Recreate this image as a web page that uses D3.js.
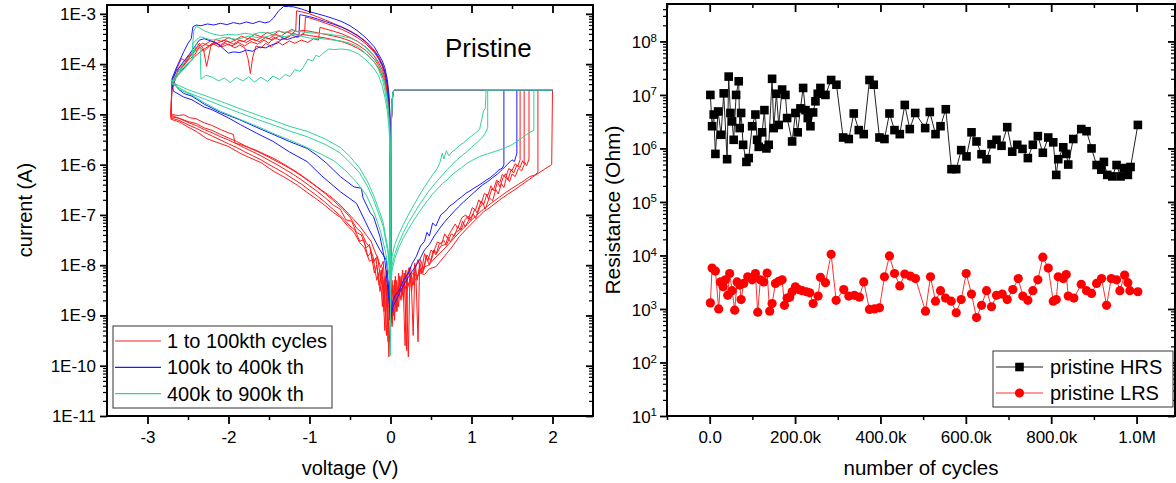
<!DOCTYPE html>
<html><head><meta charset="utf-8">
<script src="https://cdn.jsdelivr.net/npm/d3@7"></script>
<style>html,body{margin:0;padding:0;background:#fff}svg{display:block}text{font-family:"Liberation Sans",Arial,sans-serif;fill:#000}</style>
</head><body><svg id="c" width="1176" height="483"></svg>
<script>
// ---------- LEFT PANEL DATA: I-V loops [voltage V, current A] ----------
const compliance = [[2.0,3.1e-5],[0.05,3.1e-5],[0.04,3.0e-5],[0.03,2.6e-5],[0.02,1.8e-5],[0.012,8e-6],[0.006,1.5e-6],[0.002,1e-8]];

const redA_pos = [[0.0,3e-9],[0.02,1e-9],[0.05,4e-9],[0.08,1.5e-9],[0.11,5e-9],[0.14,2.5e-9],[0.18,6e-9],[0.22,4e-9],[0.27,7e-9],[0.33,6e-9],[0.4,9e-9],[0.47,1.0e-8],[0.55,1.4e-8],[0.65,2e-8],[0.75,3e-8],[0.85,4.5e-8],[0.95,6.5e-8],[1.05,9.5e-8],[1.15,1.3e-7],[1.25,1.75e-7],[1.35,2.3e-7],[1.45,3e-7],[1.55,3.8e-7],[1.65,4.8e-7],[1.72,5.8e-7],[1.78,6.2e-7],[1.82,7e-7],[1.82,3.1e-5]];
const redA_neg = [[0.0,4e-10],[-0.003,3.5e-6],[-0.01,1.1e-5],[-0.02,2.2e-5],[-0.04,4.2e-5],[-0.07,7.2e-5],[-0.1,1e-4],[-0.15,1.45e-4],[-0.2,1.9e-4],[-0.3,2.8e-4],[-0.4,3.7e-4],[-0.5,4.6e-4],[-0.6,5.5e-4],[-0.7,6.4e-4],[-0.8,7.5e-4],[-0.9,8.7e-4],[-1.0,1.0e-3],[-1.1,1.1e-3],[-1.16,1.15e-3],[-1.17,4.6e-4],[-1.22,4.0e-4],[-1.28,4.4e-4],[-1.35,3.6e-4],[-1.42,3.9e-4],[-1.5,3.2e-4],[-1.58,3.5e-4],[-1.66,2.9e-4],[-1.74,3.3e-4],[-1.82,2.8e-4],[-1.9,3.1e-4],[-1.98,2.7e-4],[-2.06,3.0e-4],[-2.14,2.6e-4],[-2.22,2.9e-4],[-2.3,2.4e-4],[-2.38,2.0e-4],[-2.45,1.6e-4],[-2.52,1.1e-4],[-2.58,1.3e-4],[-2.64,8e-5],[-2.7,4.5e-5],[-2.71,1.0e-5],
 [-2.62,9.5e-6],[-2.55,9.8e-6],[-2.48,8.6e-6],[-2.4,8.2e-6],[-2.3,6.8e-6],[-2.2,6.0e-6],[-2.1,5.0e-6],[-2.0,4.3e-6],[-1.94,4.0e-6],[-1.92,2.7e-6],[-1.85,2.5e-6],[-1.75,2.2e-6],[-1.65,1.9e-6],[-1.55,1.6e-6],[-1.45,1.35e-6],[-1.35,1.1e-6],[-1.25,8.8e-7],[-1.15,7e-7],[-1.05,5.4e-7],[-0.95,4.1e-7],[-0.85,3.1e-7],[-0.75,2.4e-7],[-0.65,1.75e-7],[-0.55,1.2e-7],[-0.45,8e-8],[-0.38,6e-8],[-0.3,4e-8],[-0.24,3e-8],[-0.2,2e-8],[-0.16,1.4e-8],[-0.12,9e-9],[-0.09,1.2e-8],[-0.07,4e-9],[-0.05,8e-9],[-0.03,2e-9],[-0.015,5e-9],[0.0,2.5e-9]];

const redB_pos = [[0.0,1.5e-9],[0.02,5e-9],[0.04,1e-9],[0.06,6e-9],[0.08,2e-9],[0.1,7e-9],[0.12,3e-9],[0.15,8e-9],[0.18,2.5e-10],[0.2,6e-9],[0.23,9e-9],[0.26,3e-9],[0.3,1.1e-8],[0.33,5e-9],[0.37,1.3e-8],[0.41,8e-9],[0.45,1.6e-8],[0.5,1.2e-8],[0.54,2e-8],[0.57,1.7e-8],[0.62,2.4e-8],[0.68,2.6e-8],[0.71,3.6e-8],[0.74,2.9e-8],[0.8,4.4e-8],[0.86,5.2e-8],[0.89,7.5e-8],[0.92,5.8e-8],[0.98,8.5e-8],[1.02,1.05e-7],[1.05,8.5e-8],[1.1,1.4e-7],[1.14,1.7e-7],[1.17,1.3e-7],[1.22,2.2e-7],[1.26,1.9e-7],[1.3,3.2e-7],[1.33,2.6e-7],[1.37,4.2e-7],[1.4,3.5e-7],[1.43,5.5e-7],[1.47,4.6e-7],[1.5,6.5e-7],[1.54,5.8e-7],[1.58,8.5e-7],[1.62,7.5e-7],[1.66,1.1e-6],[1.68,9.5e-7],[1.71,1.3e-6],[1.71,3.1e-5]];
const redB_neg = [[0.0,1e-9],[-0.003,3e-6],[-0.01,9.5e-6],[-0.02,1.9e-5],[-0.04,3.7e-5],[-0.07,6.3e-5],[-0.1,8.8e-5],[-0.15,1.3e-4],[-0.2,1.7e-4],[-0.3,2.5e-4],[-0.4,3.3e-4],[-0.5,4.1e-4],[-0.6,4.9e-4],[-0.7,5.7e-4],[-0.8,6.5e-4],[-0.9,7.4e-4],[-1.0,8.3e-4],[-1.05,8.7e-4],[-1.06,4.2e-4],[-1.12,3.7e-4],[-1.2,4.1e-4],[-1.28,3.4e-4],[-1.36,3.0e-4],[-1.44,3.4e-4],[-1.5,2.6e-4],[-1.56,3.0e-4],[-1.64,2.5e-4],[-1.72,2.8e-4],[-1.8,2.3e-4],[-1.88,2.7e-4],[-1.96,2.3e-4],[-2.04,2.6e-4],[-2.12,2.2e-4],[-2.2,2.6e-4],[-2.3,1.8e-4],[-2.36,2.2e-4],[-2.42,1.5e-4],[-2.5,1.2e-4],[-2.56,9e-5],[-2.63,7e-5],[-2.7,3.5e-5],[-2.71,9e-6],
 [-2.6,8.3e-6],[-2.5,7.2e-6],[-2.4,6.6e-6],[-2.3,5.4e-6],[-2.2,4.8e-6],[-2.1,4e-6],[-2.0,3.4e-6],[-1.9,2.9e-6],[-1.8,2.4e-6],[-1.7,2.0e-6],[-1.6,1.7e-6],[-1.5,1.4e-6],[-1.4,1.15e-6],[-1.3,9.5e-7],[-1.2,7.6e-7],[-1.1,6e-7],[-1.0,4.6e-7],[-0.9,3.5e-7],[-0.8,2.6e-7],[-0.7,1.9e-7],[-0.6,1.35e-7],[-0.5,9e-8],[-0.42,5.5e-8],[-0.36,4.5e-8],[-0.3,2.8e-8],[-0.25,2.2e-8],[-0.2,1.2e-8],[-0.16,1.5e-8],[-0.12,5e-9],[-0.1,9e-9],[-0.08,2e-9],[-0.06,6e-9],[-0.04,1.5e-9],[-0.02,4e-9],[0.0,1.5e-9]];

const redC_pos = [[0.0,1e-9],[0.03,4e-9],[0.05,8e-10],[0.07,5e-9],[0.1,1.5e-9],[0.13,6e-9],[0.16,2e-9],[0.19,8e-9],[0.22,1.5e-10],[0.24,7e-9],[0.28,4e-9],[0.31,1e-8],[0.34,3e-10],[0.36,1.1e-8],[0.4,7e-9],[0.44,1.5e-8],[0.48,1e-8],[0.53,2.0e-8],[0.56,1.6e-8],[0.6,2.6e-8],[0.66,3.1e-8],[0.69,2.5e-8],[0.75,4.2e-8],[0.79,3.8e-8],[0.83,5.8e-8],[0.87,5.0e-8],[0.92,8e-8],[0.96,9.5e-8],[0.99,7.8e-8],[1.04,1.3e-7],[1.07,1.1e-7],[1.12,1.9e-7],[1.15,1.6e-7],[1.19,2.6e-7],[1.21,2.0e-7],[1.25,3.3e-7],[1.29,3.0e-7],[1.32,4.6e-7],[1.35,3.6e-7],[1.39,5.5e-7],[1.42,6.6e-7],[1.45,5.0e-7],[1.49,8.0e-7],[1.52,6.8e-7],[1.56,9.8e-7],[1.6,8.8e-7],[1.63,1.2e-6],[1.65,1.05e-6],[1.65,3.1e-5]];
const redC_neg = [[0.0,2e-10],[-0.003,2.5e-6],[-0.01,8e-6],[-0.02,1.6e-5],[-0.04,3.1e-5],[-0.07,5.4e-5],[-0.1,7.6e-5],[-0.15,1.1e-4],[-0.2,1.45e-4],[-0.3,2.15e-4],[-0.4,2.8e-4],[-0.5,3.4e-4],[-0.6,4e-4],[-0.7,4.5e-4],[-0.8,5e-4],[-0.87,5.4e-4],[-0.89,3.0e-4],[-0.95,3.2e-4],[-1.02,2.7e-4],[-1.1,3.0e-4],[-1.18,2.6e-4],[-1.25,2.9e-4],[-1.33,2.4e-4],[-1.4,2.8e-4],[-1.47,2.2e-4],[-1.54,2.6e-4],[-1.6,2.1e-4],[-1.66,2.3e-4],[-1.7,1.4e-4],[-1.73,6.5e-5],[-1.76,1.3e-4],[-1.8,2.1e-4],[-1.86,2.4e-4],[-1.92,2.1e-4],[-2.0,2.5e-4],[-2.08,2.2e-4],[-2.16,2.6e-4],[-2.24,2.3e-4],[-2.32,2.6e-4],[-2.4,2.1e-4],[-2.48,1.5e-4],[-2.55,1.1e-4],[-2.62,8e-5],[-2.7,3e-5],[-2.71,9.5e-6],
 [-2.62,8.5e-6],[-2.5,6.9e-6],[-2.4,6e-6],[-2.3,5e-6],[-2.2,4.3e-6],[-2.1,3.6e-6],[-2.0,3.1e-6],[-1.9,2.6e-6],[-1.8,2.15e-6],[-1.7,1.8e-6],[-1.6,1.5e-6],[-1.5,1.22e-6],[-1.4,1.0e-6],[-1.3,8e-7],[-1.2,6.4e-7],[-1.1,5e-7],[-1.0,3.8e-7],[-0.9,2.9e-7],[-0.8,2.15e-7],[-0.7,1.55e-7],[-0.62,1.3e-7],[-0.55,8e-8],[-0.48,7.5e-8],[-0.42,4.5e-8],[-0.36,4e-8],[-0.3,2.2e-8],[-0.26,2.6e-8],[-0.22,1.1e-8],[-0.18,1.4e-8],[-0.14,4e-9],[-0.11,8e-9],[-0.08,1.2e-9],[-0.06,5e-9],[-0.03,3e-10],[-0.015,3e-9],[0.0,1e-9]];

const redD_pos = [[0.0,2e-9],[0.02,7e-10],[0.05,5e-9],[0.08,1.2e-9],[0.11,6e-9],[0.14,2.5e-9],[0.17,7e-9],[0.2,2e-10],[0.21,6e-9],[0.25,9e-9],[0.28,4e-10],[0.3,8e-9],[0.34,1.3e-8],[0.38,7e-9],[0.42,1.7e-8],[0.46,1.2e-8],[0.5,2.0e-8],[0.53,1.8e-8],[0.58,2.9e-8],[0.63,2.6e-8],[0.67,4.2e-8],[0.7,3.5e-8],[0.76,5.2e-8],[0.8,6.6e-8],[0.83,5.4e-8],[0.88,8.8e-8],[0.93,1.0e-7],[0.96,8.2e-8],[1.01,1.4e-7],[1.05,1.25e-7],[1.09,2.0e-7],[1.12,1.7e-7],[1.16,2.7e-7],[1.2,2.4e-7],[1.24,3.8e-7],[1.27,3.1e-7],[1.31,4.9e-7],[1.35,4.4e-7],[1.38,6.4e-7],[1.42,5.5e-7],[1.46,8.4e-7],[1.5,7.6e-7],[1.54,1.05e-6],[1.57,9.2e-7],[1.6,1.25e-6],[1.6,3.1e-5]];
const redD_neg = [[0.0,1.5e-9],[-0.003,2.2e-6],[-0.01,7e-6],[-0.02,1.4e-5],[-0.04,2.7e-5],[-0.07,4.7e-5],[-0.1,6.6e-5],[-0.15,9.6e-5],[-0.2,1.25e-4],[-0.3,1.85e-4],[-0.4,2.4e-4],[-0.5,2.9e-4],[-0.6,3.3e-4],[-0.7,3.6e-4],[-0.8,3.9e-4],[-0.9,4.2e-4],[-1.0,4.5e-4],[-1.08,4.7e-4],[-1.15,4.4e-4],[-1.22,4.9e-4],[-1.3,4.1e-4],[-1.38,4.6e-4],[-1.45,3.8e-4],[-1.52,4.3e-4],[-1.6,3.5e-4],[-1.68,3.9e-4],[-1.76,3.2e-4],[-1.84,3.6e-4],[-1.92,3.0e-4],[-2.0,3.4e-4],[-2.08,2.8e-4],[-2.16,3.1e-4],[-2.22,2.2e-4],[-2.27,9e-5],[-2.31,2.0e-4],[-2.36,2.6e-4],[-2.42,1.8e-4],[-2.5,1.3e-4],[-2.57,9e-5],[-2.64,6.5e-5],[-2.7,4e-5],[-2.71,8.5e-6],
 [-2.6,7.5e-6],[-2.5,6.2e-6],[-2.4,5.3e-6],[-2.3,4.4e-6],[-2.2,3.7e-6],[-2.1,3.1e-6],[-2.0,2.6e-6],[-1.9,2.2e-6],[-1.8,1.8e-6],[-1.7,1.5e-6],[-1.6,1.25e-6],[-1.5,1.0e-6],[-1.4,8.2e-7],[-1.3,6.6e-7],[-1.2,5.2e-7],[-1.1,4.1e-7],[-1.0,3.1e-7],[-0.9,2.35e-7],[-0.8,1.75e-7],[-0.7,1.25e-7],[-0.6,9e-8],[-0.5,6e-8],[-0.44,5e-8],[-0.38,3e-8],[-0.33,3.2e-8],[-0.28,1.5e-8],[-0.24,1.8e-8],[-0.2,7e-9],[-0.17,1e-8],[-0.13,3e-9],[-0.1,6e-9],[-0.07,5e-10],[-0.05,4e-9],[-0.02,1.5e-10],[0.0,1.5e-9]];

const redE_pos = [[0.0,2e-9],[0.02,6e-10],[0.04,3e-9],[0.07,1.2e-9],[0.1,4e-9],[0.13,2e-9],[0.16,5e-9],[0.2,3e-9],[0.25,6e-9],[0.3,5e-9],[0.36,7e-9],[0.42,6.5e-9],[0.48,8.5e-9],[0.56,9.3e-9],[0.65,1.4e-8],[0.75,2.2e-8],[0.85,3.7e-8],[0.95,5.5e-8],[1.05,8e-8],[1.15,1.15e-7],[1.25,1.5e-7],[1.35,2e-7],[1.45,2.6e-7],[1.55,3.3e-7],[1.65,4.3e-7],[1.75,5.6e-7],[1.85,7.2e-7],[1.92,8.5e-7],[1.99,1.0e-6],[2.0,3.1e-5]];
const redE_neg = [[0.0,6e-10],[-0.003,2e-6],[-0.01,6.3e-6],[-0.02,1.25e-5],[-0.04,2.4e-5],[-0.07,4.2e-5],[-0.1,5.8e-5],[-0.15,8.5e-5],[-0.2,1.1e-4],[-0.3,1.6e-4],[-0.4,2.05e-4],[-0.5,2.45e-4],[-0.6,2.8e-4],[-0.7,3.05e-4],[-0.8,3.3e-4],[-0.9,3.5e-4],[-1.0,3.7e-4],[-1.08,3.9e-4],[-1.15,3.4e-4],[-1.22,3.8e-4],[-1.3,3.2e-4],[-1.38,3.6e-4],[-1.46,3.0e-4],[-1.54,3.4e-4],[-1.62,2.8e-4],[-1.7,3.2e-4],[-1.78,2.7e-4],[-1.86,3.0e-4],[-1.94,2.5e-4],[-2.02,2.9e-4],[-2.1,2.4e-4],[-2.18,2.7e-4],[-2.26,2.2e-4],[-2.34,1.8e-4],[-2.42,1.4e-4],[-2.5,1.0e-4],[-2.58,7.5e-5],[-2.65,5.5e-5],[-2.7,3e-5],[-2.71,8e-6],
 [-2.6,7e-6],[-2.5,5.6e-6],[-2.4,4.6e-6],[-2.27,3.3e-6],[-2.15,2.8e-6],[-2.0,2.3e-6],[-1.86,1.7e-6],[-1.75,1.4e-6],[-1.6,1.1e-6],[-1.45,7.5e-7],[-1.3,5.5e-7],[-1.15,3.9e-7],[-1.03,2.8e-7],[-0.9,2e-7],[-0.8,1.5e-7],[-0.7,1.1e-7],[-0.62,9e-8],[-0.52,5.8e-8],[-0.45,4.5e-8],[-0.38,2.8e-8],[-0.32,2.2e-8],[-0.26,1.2e-8],[-0.21,1.3e-8],[-0.17,5e-9],[-0.13,8e-9],[-0.1,1.5e-9],[-0.08,5e-9],[-0.05,4e-10],[-0.03,3e-9],[-0.01,8e-10],[0.0,2e-9]];

const blueA_pos = [[0.0,1e-9],[0.03,2e-9],[0.06,2.5e-9],[0.11,3.2e-9],[0.16,5e-9],[0.22,7e-9],[0.27,1.1e-8],[0.32,1.5e-8],[0.37,2.4e-8],[0.42,3e-8],[0.45,4.5e-8],[0.48,3.8e-8],[0.52,6.9e-8],[0.56,6e-8],[0.62,1e-7],[0.68,1.2e-7],[0.73,1.5e-7],[0.78,1.7e-7],[0.83,2e-7],[0.88,2.3e-7],[0.93,2.7e-7],[0.98,3e-7],[1.03,3.4e-7],[1.08,3.8e-7],[1.13,4.3e-7],[1.18,4.9e-7],[1.23,5.5e-7],[1.28,6.4e-7],[1.34,7.9e-7],[1.38,8.5e-7],[1.40,1.0e-6],[1.40,3.1e-5]];
const blueA_neg = [[0.0,2e-9],[-0.003,4e-6],[-0.01,1.3e-5],[-0.02,2.6e-5],[-0.04,5e-5],[-0.07,8.5e-5],[-0.1,1.15e-4],[-0.15,1.6e-4],[-0.2,2.2e-4],[-0.3,3.3e-4],[-0.4,4.5e-4],[-0.5,5.8e-4],[-0.6,7e-4],[-0.7,8e-4],[-0.8,9e-4],[-0.9,1.0e-3],[-1.0,1.1e-3],[-1.1,1.25e-3],[-1.2,1.38e-3],[-1.26,1.4e-3],[-1.32,1.4e-3],[-1.38,1.15e-3],[-1.44,8.5e-4],[-1.49,7e-4],[-1.55,6.6e-4],[-1.62,7.1e-4],[-1.7,6.4e-4],[-1.78,6.9e-4],[-1.86,6.3e-4],[-1.94,6.7e-4],[-2.02,6.1e-4],[-2.1,6.5e-4],[-2.18,6.0e-4],[-2.26,6.3e-4],[-2.34,5.8e-4],[-2.4,6.0e-4],[-2.44,5.5e-4],[-2.46,3.2e-4],[-2.5,2.6e-4],[-2.55,1.8e-4],[-2.6,1.2e-4],[-2.65,8e-5],[-2.7,5e-5],
 [-2.62,3.2e-5],[-2.55,2.6e-5],[-2.45,2.3e-5],[-2.3,1.6e-5],[-2.1,1.1e-5],[-1.86,7.8e-6],[-1.65,5.5e-6],[-1.45,4e-6],[-1.25,2.9e-6],[-1.03,2.1e-6],[-0.9,1.5e-6],[-0.79,1.07e-6],[-0.62,5.8e-7],[-0.45,3.6e-7],[-0.36,3.4e-7],[-0.34,2.2e-7],[-0.25,1.1e-7],[-0.21,9.3e-8],[-0.13,3.7e-8],[-0.07,1.26e-8],[-0.03,3e-9],[0.0,1e-9]];

const blueB_pos = [[0.0,8e-10],[0.03,1.5e-9],[0.07,2e-9],[0.12,3e-9],[0.18,4.5e-9],[0.24,6.5e-9],[0.3,9e-9],[0.36,1.3e-8],[0.42,2e-8],[0.48,2.6e-8],[0.54,3.8e-8],[0.6,5.2e-8],[0.66,7e-8],[0.72,9e-8],[0.78,1.15e-7],[0.84,1.45e-7],[0.9,1.8e-7],[0.96,2.2e-7],[1.02,2.7e-7],[1.08,3.3e-7],[1.14,4e-7],[1.2,4.6e-7],[1.26,5.5e-7],[1.32,6.5e-7],[1.38,8e-7],[1.44,1e-6],[1.5,1.25e-6],[1.53,1.15e-6],[1.56,1.7e-6],[1.56,3.1e-5]];
const blueB_neg = [[0.0,1.5e-9],[-0.003,3e-6],[-0.01,1e-5],[-0.02,2e-5],[-0.04,4e-5],[-0.07,7e-5],[-0.1,9.5e-5],[-0.15,1.35e-4],[-0.2,1.8e-4],[-0.3,2.7e-4],[-0.4,3.6e-4],[-0.5,4.5e-4],[-0.6,5.4e-4],[-0.7,6.2e-4],[-0.8,7e-4],[-0.9,7.9e-4],[-1.0,8.8e-4],[-1.1,9.5e-4],[-1.12,9.6e-4],[-1.13,3.6e-4],[-1.2,3.4e-4],[-1.27,3.1e-4],[-1.34,3.2e-4],[-1.4,2.6e-4],[-1.47,2.4e-4],[-1.54,2.1e-4],[-1.62,2.2e-4],[-1.7,1.8e-4],[-1.78,1.9e-4],[-1.86,1.7e-4],[-1.94,1.75e-4],[-2.0,1.65e-4],[-2.06,2e-4],[-2.14,2.6e-4],[-2.22,2.9e-4],[-2.3,3.2e-4],[-2.36,3.0e-4],[-2.42,2.2e-4],[-2.48,1.6e-4],[-2.54,1.2e-4],[-2.6,9e-5],[-2.65,7e-5],[-2.7,4.5e-5],
 [-2.68,2.9e-5],[-2.55,2.2e-5],[-2.45,1.95e-5],[-2.3,1.4e-5],[-2.2,1.23e-5],[-2.0,8.5e-6],[-1.85,6.2e-6],[-1.65,4.2e-6],[-1.45,2.9e-6],[-1.25,1.8e-6],[-1.03,1.15e-6],[-0.85,6e-7],[-0.62,2.9e-7],[-0.42,1.7e-7],[-0.26,5e-8],[-0.13,2e-8],[-0.05,1.26e-8],[-0.02,3e-9],[0.0,8e-10]];

const greenA_pos = [[0.0,5e-9],[0.02,1.5e-8],[0.05,2.5e-8],[0.1,4e-8],[0.16,6.5e-8],[0.22,1e-7],[0.28,1.5e-7],[0.34,2.2e-7],[0.4,3.2e-7],[0.46,4.5e-7],[0.52,6.3e-7],[0.57,8e-7],[0.61,1.1e-6],[0.64,1.7e-6],[0.66,1.3e-6],[0.69,1.9e-6],[0.72,1.5e-6],[0.76,1.8e-6],[0.8,2.0e-6],[0.85,2.4e-6],[0.9,2.7e-6],[0.95,3.2e-6],[1.0,3.7e-6],[1.05,4.3e-6],[1.1,5e-6],[1.15,1.2e-5],[1.17,1.3e-5],[1.18,3.1e-5]];
const greenA_neg = [[0.0,1.6e-10],[-0.003,1.5e-6],[-0.01,5e-6],[-0.02,1e-5],[-0.04,2e-5],[-0.07,4e-5],[-0.1,6.5e-5],[-0.15,1e-4],[-0.2,1.4e-4],[-0.3,2.1e-4],[-0.4,2.8e-4],[-0.5,3.3e-4],[-0.6,3.6e-4],[-0.7,3.8e-4],[-0.8,4.0e-4],[-0.9,4.1e-4],[-1.0,4.2e-4],[-1.1,4.4e-4],[-1.2,4.6e-4],[-1.3,4.3e-4],[-1.4,4.5e-4],[-1.5,4.1e-4],[-1.6,4.3e-4],[-1.7,3.9e-4],[-1.8,4.1e-4],[-1.9,3.8e-4],[-2.0,3.9e-4],[-2.1,3.7e-4],[-2.2,4.0e-4],[-2.3,4.6e-4],[-2.36,5.3e-4],[-2.4,5.6e-4],[-2.43,4.5e-4],[-2.45,1.5e-4],[-2.5,1.3e-4],[-2.55,1.1e-4],[-2.6,8e-5],[-2.65,6e-5],[-2.7,4.5e-5],
 [-2.68,4.2e-5],[-2.5,3.1e-5],[-2.27,2.3e-5],[-2.05,1.7e-5],[-1.86,1.3e-5],[-1.65,9.8e-6],[-1.45,7.6e-6],[-1.25,5.8e-6],[-1.03,4.6e-6],[-0.8,3.2e-6],[-0.62,2.2e-6],[-0.5,1.45e-6],[-0.38,8.5e-7],[-0.28,4.5e-7],[-0.21,2.5e-7],[-0.13,1.1e-7],[-0.09,7e-8],[-0.03,2e-8],[0.0,5e-9]];

const greenB_pos = [[0.0,4e-9],[0.02,1e-8],[0.05,1.6e-8],[0.1,2.7e-8],[0.16,4.5e-8],[0.22,7e-8],[0.28,1e-7],[0.34,1.45e-7],[0.4,2e-7],[0.46,2.8e-7],[0.52,3.7e-7],[0.58,4.8e-7],[0.64,6.2e-7],[0.7,8e-7],[0.76,1e-6],[0.82,1.25e-6],[0.88,1.5e-6],[0.94,1.8e-6],[1.0,2.2e-6],[1.06,2.7e-6],[1.12,3.3e-6],[1.17,4.2e-6],[1.2,5.4e-6],[1.2,3.1e-5]];
const greenB_neg = [[0.0,1e-9],[-0.003,1.2e-6],[-0.01,4e-6],[-0.02,8e-6],[-0.04,1.6e-5],[-0.07,3e-5],[-0.1,5e-5],[-0.15,8e-5],[-0.2,1.1e-4],[-0.3,1.6e-4],[-0.4,2.2e-4],[-0.5,2.6e-4],[-0.6,2.85e-4],[-0.7,3.0e-4],[-0.8,3.15e-4],[-0.9,3.25e-4],[-1.0,3.3e-4],[-1.1,3.6e-4],[-1.2,3.9e-4],[-1.3,3.5e-4],[-1.45,3.8e-4],[-1.6,3.3e-4],[-1.75,3.6e-4],[-1.9,3.1e-4],[-2.05,3.4e-4],[-2.2,3.0e-4],[-2.35,3.5e-4],[-2.44,2.6e-4],[-2.45,1.2e-4],[-2.55,8e-5],[-2.62,6e-5],[-2.7,4e-5],
 [-2.68,3.9e-5],[-2.5,2.7e-5],[-2.27,1.95e-5],[-2.05,1.4e-5],[-1.86,1.07e-5],[-1.65,8e-6],[-1.45,6.2e-6],[-1.25,4.7e-6],[-1.03,3.6e-6],[-0.8,2.5e-6],[-0.62,1.7e-6],[-0.5,1.1e-6],[-0.38,6.8e-7],[-0.28,3.6e-7],[-0.21,2e-7],[-0.13,9e-8],[-0.09,5.9e-8],[-0.03,1.7e-8],[0.0,5e-9]];

const greenC_pos = [[0.0,3e-9],[0.02,8e-9],[0.05,1.3e-8],[0.1,2.2e-8],[0.16,3.5e-8],[0.22,5.2e-8],[0.28,7.5e-8],[0.34,1.05e-7],[0.4,1.45e-7],[0.46,1.95e-7],[0.52,2.6e-7],[0.58,3.3e-7],[0.64,4.2e-7],[0.7,5e-7],[0.76,6.3e-7],[0.82,7.5e-7],[0.88,8.8e-7],[0.94,1.05e-6],[1.0,1.2e-6],[1.1,1.45e-6],[1.2,1.65e-6],[1.3,1.85e-6],[1.4,2.1e-6],[1.5,2.5e-6],[1.6,3.2e-6],[1.66,3.8e-6],[1.72,4.4e-6],[1.77,4.8e-6],[1.77,3.1e-5]];
const greenC_neg = [[0.0,1.2e-9],[-0.003,1e-6],[-0.01,3e-6],[-0.02,6e-6],[-0.04,1.2e-5],[-0.07,2.2e-5],[-0.1,3.6e-5],[-0.15,6e-5],[-0.2,8e-5],[-0.3,1.2e-4],[-0.4,1.6e-4],[-0.5,1.9e-4],[-0.6,2e-4],[-0.7,1.95e-4],[-0.76,2e-4],[-0.83,1.66e-4],[-0.88,1.4e-4],[-0.92,1.5e-4],[-0.96,1.15e-4],[-1.02,1.25e-4],[-1.08,8.5e-5],[-1.12,7.2e-5],[-1.18,7.8e-5],[-1.24,5.7e-5],[-1.3,6.2e-5],[-1.37,4.9e-5],[-1.45,5.8e-5],[-1.52,4.5e-5],[-1.6,5.5e-5],[-1.68,4.4e-5],[-1.75,5.6e-5],[-1.82,4.6e-5],[-1.9,5.4e-5],[-1.98,4.3e-5],[-2.05,5.3e-5],[-2.12,4.6e-5],[-2.2,5.5e-5],[-2.28,6e-5],[-2.34,5e-5],[-2.35,2.2e-4],[-2.4,2.5e-4],[-2.45,1.2e-4],[-2.55,9e-5],[-2.62,6.5e-5],[-2.7,4.2e-5],
 [-2.6,3.1e-5],[-2.45,2.4e-5],[-2.3,1.7e-5],[-2.1,1.15e-5],[-1.86,8e-6],[-1.65,5.8e-6],[-1.45,4.2e-6],[-1.25,3.1e-6],[-1.03,2.2e-6],[-0.85,1.6e-6],[-0.7,1.2e-6],[-0.55,7.5e-7],[-0.42,4.5e-7],[-0.3,2.5e-7],[-0.2,1.1e-7],[-0.12,4.5e-8],[-0.06,1.8e-8],[0.0,4e-9]];

const voltTicks = [-3,-2,-1,0,1,2];
const voltTickLabels = ["-3","-2","-1","0","1","2"];
const voltMinor = [-2.5,-1.5,-0.5,0.5,1.5];
const currentTicks = [1e-11,1e-10,1e-9,1e-8,1e-7,1e-6,1e-5,1e-4,1e-3];
const currentTickLabels = ["1E-11","1E-10","1E-9","1E-8","1E-7","1E-6","1E-5","1E-4","1E-3"];
const legendLeft = ["1 to 100kth cycles","100k to 400k th","400k to 900k th"];
const ivColors = ["#ff1a1a","#1a1aff","#2fd49a"];

// ---------- RIGHT PANEL DATA: endurance ----------
const hrsKCycles = [1.6,5.6,9.4,13.4,19.7,26.7,32.8,40.8,44.5,48.5,52.5,56.2,61.9,68.0,70.3,73.6,78.3,86.0,91.4,99.4,107.1,111.1,114.8,122.8,128.2,132.9,138.3,146.2,150,156.3,161.7,169.7,177.4,181.4,193.1,200.8,206.2,212.6,218.9,224.3,229.7,236,242.3,247.7,253.1,259.4,271.2,284.5,296.9,312.6,325.8,337.5,349.2,360.9,374.3,384.3,397.7,409.4,421.1,432.9,445.3,457,468.7,481.4,504.8,515.6,529,540.7,553.1,566.4,577.5,589.2,601.6,613.3,625,636.8,648.5,660.2,671.9,683.6,697,708.7,720.4,732.8,745.3,757,768.7,780.4,793.1,804.8,811.8,816.5,828.2,835.2,839.9,851.7,870.4,882.8,894.5,906.3,917.3,923.4,931.3,943.1,953.1,962.5,970.2,979.6,985.9,1003];
const hrsOhm = [1.0e7,2.6e6,4.3e6,7.9e5,4.9e6,1.8e6,1.07e7,6.3e5,2.2e7,4.6e6,3.2e6,1.45e6,1.0e7,1.8e7,2.4e6,4.6e6,1.17e6,5.6e5,6.6e5,2.6e6,4.3e6,1.45e6,1.07e6,2.0e6,5.2e6,1.0e6,1.17e6,2.0e7,2.4e6,1.05e7,2.75e6,1.26e7,1.0e7,3.7e6,1.35e6,4.6e6,2.0e6,5.6e6,1.35e7,5.2e6,3.7e6,2.6e6,4.7e6,7.6e6,1.05e7,1.35e7,1.0e7,1.9e7,1.55e7,1.6e6,1.5e6,4.5e6,2.2e6,1.85e6,1.9e7,1.55e7,1.6e6,1.5e6,4.5e6,2.2e6,1.85e6,6.5e6,2.3e6,4.6e6,2.4e6,4.8e6,1.85e6,2.6e6,5.4e6,4.1e5,4.1e5,9.3e5,7.1e5,2.0e6,1.35e6,7.8e5,6.3e5,1.2e6,1.45e6,1.12e6,2.5e6,8.7e5,1.17e6,9.8e5,6.6e5,1.17e6,1.7e6,8.3e5,1.6e6,1.3e6,3.2e5,6.3e5,1.05e6,7.9e5,5.0e5,1.5e6,2.3e6,2.1e6,1.0e6,4.9e5,4.0e5,5.6e5,3.2e5,3.0e5,4.9e5,3.0e5,4.3e5,3.2e5,4.5e5,2.75e6];
const lrsKCycles = [1.6,5.6,13.4,21.1,25.1,31.4,36.8,42.2,46.9,52.5,58.6,64.2,70.3,73.6,79.7,89.1,99.4,107.1,112.5,118.8,126.6,134.5,140.6,146.2,154,161.7,169.7,175.1,181.4,187.5,193.1,200.8,208.6,216.5,226.6,234.4,242.3,254,259.4,271.2,284.5,296.2,314,325.8,339.1,350.8,360.9,374.3,386,397.7,409.4,421.1,432.9,445.3,457,470.4,482.1,505.5,517.2,529,540.7,552.4,565.7,577.5,589.2,600.9,613.3,625,636.8,648.5,660.2,671.9,685.3,697,710.1,722.8,733.5,745.3,757,768.7,780.4,793.1,804.8,811.8,816.5,828.2,835.2,839.9,853.1,870.4,882.8,894.5,906.3,918,929.7,940.7,953.1,960.9,971.9,979.6,984.3,1003];
const lrsOhm = [1.3e3,5.8e3,5.1e3,1.0e3,3.2e3,2.6e3,3.5e3,1.8e3,4.6e3,2.2e3,9.5e2,3.2e3,2.8e3,1.5e3,3.0e3,4.0e3,3.5e3,4.6e3,8.7e2,3.5e3,3.2e3,4.7e3,9.1e2,1.26e3,3.0e3,3.3e3,3.5e3,1.17e3,1.6e3,1.66e3,2.1e3,2.6e3,2.3e3,2.2e3,2.1e3,2.0e3,1.26e3,1.74e3,3.9e3,3.1e3,1.05e4,1.45e3,2.3e3,1.74e3,1.8e3,1.66e3,3.2e3,9.8e2,1.0e3,1.05e3,4.0e3,9.8e3,4.6e3,2.7e3,4.5e3,4.1e3,3.7e3,9.1e2,4.0e3,1.4e3,2.2e3,1.6e3,1.4e3,8.5e2,1.5e3,4.6e3,1.9e3,6.9e2,1.17e3,2.2e3,1.1e3,1.8e3,1.9e3,1.5e3,2.3e3,3.7e3,1.74e3,1.45e3,2.2e3,3.5e3,9.3e3,5.8e3,1.4e3,1.5e3,4.0e3,3.7e3,4.4e3,1.74e3,1.6e3,2.9e3,2.2e3,1.95e3,3.0e3,3.7e3,1.17e3,3.7e3,3.5e3,2.2e3,4.3e3,3.1e3,2.2e3,2.1e3];
const cycleTicks = [0,200,400,600,800,1000];
const cycleTickLabels = ["0.0","200.0k","400.0k","600.0k","800.0k","1.0M"];
const cycleMinor = [-100,100,300,500,700,900];
const ohmExponents = [1,2,3,4,5,6,7,8];
const legendRight = ["pristine HRS","pristine LRS"];

// ---------- DRAW ----------
const svg = d3.select("#c");
svg.append("rect").attr("width",1176).attr("height",483).attr("fill","#fff");
const FONT = '"Liberation Sans", Arial, sans-serif';

function styleAxis(g, w){ g.select(".domain").remove(); g.selectAll(".tick line").attr("stroke","#000").attr("stroke-width",w); g.selectAll("text").attr("font-family",FONT).attr("fill","#000"); }

// ===== Left panel =====
const L = {x0:107, x1:593, y0:5, y1:416};
const xV = d3.scaleLinear().domain([-3.5,2.5]).range([L.x0,L.x1]);
const yI = d3.scaleLog().domain([1e-11,1.5e-3]).range([L.y1,L.y0]);
const lp = svg.append("g");
lp.append("clipPath").attr("id","clipL").append("rect").attr("x",L.x0).attr("y",L.y0).attr("width",L.x1-L.x0).attr("height",L.y1-L.y0);
const lineIV = d3.line().x(d=>xV(d[0])).y(d=>yI(d[1]));
const loops = [
  [redA_pos,redA_neg,0],[redB_pos,redB_neg,0],[redC_pos,redC_neg,0],[redD_pos,redD_neg,0],[redE_pos,redE_neg,0],
  [blueA_pos,blueA_neg,1],[blueB_pos,blueB_neg,1],
  [greenA_pos,greenA_neg,2],[greenB_pos,greenB_neg,2],[greenC_pos,greenC_neg,2]
];
const cg = lp.append("g").attr("clip-path","url(#clipL)");
loops.forEach(([p,n,c])=>{
  cg.append("path").attr("d", lineIV(p.concat(compliance, n))).attr("fill","none")
    .attr("stroke", ivColors[c]).attr("stroke-width",1).attr("stroke-linejoin","round");
});
const iMinor = [];
for (let e=-11;e<=-3;e++) for (let m=2;m<=9;m++){ const v=m*Math.pow(10,e); if (v<1.5e-3) iMinor.push(v); }
styleAxis(lp.append("g").attr("transform",`translate(${L.x0},0)`).call(d3.axisLeft(yI).tickValues(iMinor).tickSize(4).tickFormat("")),1.2);
styleAxis(lp.append("g").attr("transform",`translate(${L.x1},0)`).call(d3.axisRight(yI).tickValues(iMinor).tickSize(-4).tickFormat("")),1.2);
const ayL = lp.append("g").attr("transform",`translate(${L.x0},0)`).call(d3.axisLeft(yI).tickValues(currentTicks).tickSize(7).tickPadding(4).tickFormat((d,i)=>currentTickLabels[i]));
styleAxis(ayL,1.8); ayL.selectAll("text").attr("font-size",17);
styleAxis(lp.append("g").attr("transform",`translate(${L.x1},0)`).call(d3.axisRight(yI).tickValues(currentTicks).tickSize(-7).tickFormat("")),1.8);
styleAxis(lp.append("g").attr("transform",`translate(0,${L.y1})`).call(d3.axisBottom(xV).tickValues(voltMinor).tickSize(4).tickFormat("")),1.5);
styleAxis(lp.append("g").attr("transform",`translate(0,${L.y0})`).call(d3.axisTop(xV).tickValues(voltMinor).tickSize(-4).tickFormat("")),1.5);
const axL = lp.append("g").attr("transform",`translate(0,${L.y1})`).call(d3.axisBottom(xV).tickValues(voltTicks).tickSize(8).tickPadding(7).tickFormat((d,i)=>voltTickLabels[i]));
styleAxis(axL,1.8); axL.selectAll("text").attr("font-size",17);
styleAxis(lp.append("g").attr("transform",`translate(0,${L.y0})`).call(d3.axisTop(xV).tickValues(voltTicks).tickSize(-8).tickFormat("")),1.8);
lp.append("rect").attr("x",L.x0).attr("y",L.y0).attr("width",L.x1-L.x0).attr("height",L.y1-L.y0).attr("fill","none").attr("stroke","#000").attr("stroke-width",2);
lp.append("text").attr("x",445).attr("y",57).attr("font-family",'"Open Sans", sans-serif').attr("font-size",26).text("Pristine");
lp.append("text").attr("transform","translate(32,210) rotate(-90)").attr("text-anchor","middle").attr("font-size",20).text("current (A)");
lp.append("text").attr("x",350).attr("y",475).attr("text-anchor","middle").attr("font-size",20).text("voltage (V)");
const lgL = lp.append("g");
lgL.append("rect").attr("x",113).attr("y",326).attr("width",219).attr("height",82).attr("fill","#fff").attr("stroke","#333").attr("stroke-width",1);
legendLeft.forEach((t,i)=>{
  const yy = 341 + i*26.3;
  lgL.append("line").attr("x1",115).attr("x2",161).attr("y1",yy).attr("y2",yy).attr("stroke",ivColors[i]).attr("stroke-width",1.2);
  lgL.append("text").attr("x",167).attr("y",yy+7).attr("font-size",20).text(t);
});

// ===== Right panel =====
const R = {x0:667, x1:1175, y0:4, y1:416};
const xC = d3.scaleLinear().domain([-100,1090]).range([R.x0,R.x1]);
const yR = d3.scaleLog().domain([10,5e8]).range([R.y1,R.y0]);
const rp = svg.append("g");
const rMinor = [];
for (let e=1;e<=8;e++) for (let m=2;m<=9;m++){ const v=m*Math.pow(10,e); if (v<5e8) rMinor.push(v); }
const rMajor = ohmExponents.map(e=>Math.pow(10,e));
styleAxis(rp.append("g").attr("transform",`translate(${R.x0},0)`).call(d3.axisLeft(yR).tickValues(rMinor).tickSize(4).tickFormat("")),1.2);
styleAxis(rp.append("g").attr("transform",`translate(${R.x1},0)`).call(d3.axisRight(yR).tickValues(rMinor).tickSize(-4).tickFormat("")),1.2);
const ayR = rp.append("g").attr("transform",`translate(${R.x0},0)`).call(d3.axisLeft(yR).tickValues(rMajor).tickSize(7).tickFormat(""));
styleAxis(ayR,1.8);
ayR.selectAll(".tick").each(function(d,i){
  const t = d3.select(this).append("text").attr("x",-10).attr("y",0).attr("dy","0.36em").attr("text-anchor","end").attr("font-size",17).attr("font-family",FONT);
  t.append("tspan").text("10");
  t.append("tspan").attr("dy","-0.55em").attr("font-size",11.5).text(String(ohmExponents[i]));
});
styleAxis(rp.append("g").attr("transform",`translate(${R.x1},0)`).call(d3.axisRight(yR).tickValues(rMajor).tickSize(-7).tickFormat("")),1.8);
styleAxis(rp.append("g").attr("transform",`translate(0,${R.y1})`).call(d3.axisBottom(xC).tickValues(cycleMinor).tickSize(4).tickFormat("")),1.5);
styleAxis(rp.append("g").attr("transform",`translate(0,${R.y0})`).call(d3.axisTop(xC).tickValues(cycleMinor).tickSize(-4).tickFormat("")),1.5);
const axR = rp.append("g").attr("transform",`translate(0,${R.y1})`).call(d3.axisBottom(xC).tickValues(cycleTicks).tickSize(8).tickPadding(7).tickFormat((d,i)=>cycleTickLabels[i]));
styleAxis(axR,1.8); axR.selectAll("text").attr("font-size",17);
styleAxis(rp.append("g").attr("transform",`translate(0,${R.y0})`).call(d3.axisTop(xC).tickValues(cycleTicks).tickSize(-8).tickFormat("")),1.8);

const hrs = hrsKCycles.map((c,i)=>[c,hrsOhm[i]]);
const lrs = lrsKCycles.map((c,i)=>[c,lrsOhm[i]]);
const lineR = d3.line().x(d=>xC(d[0])).y(d=>yR(d[1]));
rp.append("path").attr("d",lineR(hrs)).attr("fill","none").attr("stroke","#222").attr("stroke-width",1);
rp.append("path").attr("d",lineR(lrs)).attr("fill","none").attr("stroke","#ff3030").attr("stroke-width",1);
const SQ = 8.6;
rp.append("g").selectAll("rect").data(hrs).join("rect")
  .attr("x",d=>xC(d[0])-SQ/2).attr("y",d=>yR(d[1])-SQ/2).attr("width",SQ).attr("height",SQ).attr("fill","#000");
rp.append("g").selectAll("circle").data(lrs).join("circle")
  .attr("cx",d=>xC(d[0])).attr("cy",d=>yR(d[1])).attr("r",4.6).attr("fill","#ff0000");
rp.append("rect").attr("x",R.x0).attr("y",R.y0).attr("width",R.x1-R.x0).attr("height",R.y1-R.y0).attr("fill","none").attr("stroke","#000").attr("stroke-width",2);
rp.append("text").attr("transform","translate(620,210) rotate(-90)").attr("text-anchor","middle").attr("font-size",21).text("Resistance (Ohm)");
rp.append("text").attr("x",921).attr("y",475).attr("text-anchor","middle").attr("font-size",20.5).text("number of cycles");
const lgR = rp.append("g");
lgR.append("rect").attr("x",993).attr("y",351).attr("width",180).attr("height",56).attr("fill","#fff").attr("stroke","#333").attr("stroke-width",1);
[[367,"#222"],[393,"#ff3030"]].forEach(([yy,col],i)=>{
  lgR.append("line").attr("x1",996).attr("x2",1043).attr("y1",yy).attr("y2",yy).attr("stroke",col).attr("stroke-width",1);
  if (i===0) lgR.append("rect").attr("x",1019.5-SQ/2).attr("y",yy-SQ/2).attr("width",SQ).attr("height",SQ).attr("fill","#000");
  else lgR.append("circle").attr("cx",1019.5).attr("cy",yy).attr("r",4.6).attr("fill","#ff0000");
  lgR.append("text").attr("x",1050).attr("y",yy+7).attr("font-size",20).text(legendRight[i]);
});
</script></body></html>
